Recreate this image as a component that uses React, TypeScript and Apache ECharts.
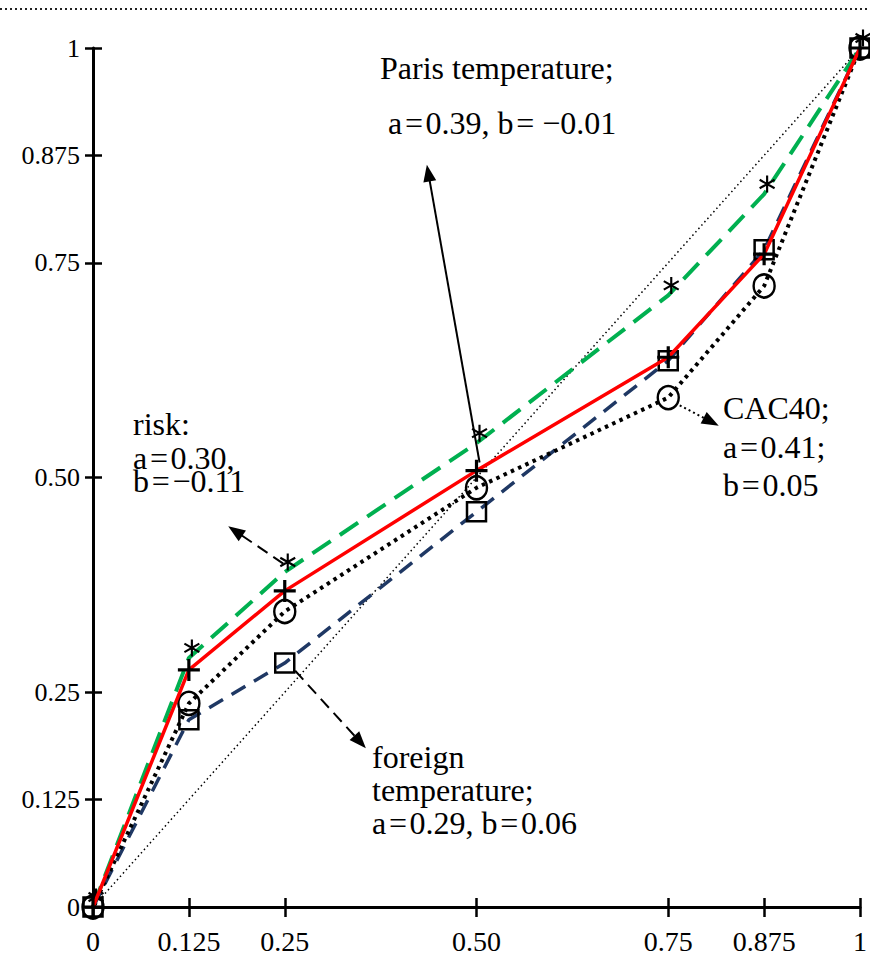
import React, { useEffect, useRef } from "react";
import * as echarts from "echarts";

const xValues = [0, 0.125, 0.25, 0.5, 0.75, 0.875, 1];
const riskValues = [0, 0.29, 0.39, 0.54, 0.712, 0.83, 1];
const parisValues = [0, 0.276, 0.368, 0.508, 0.64, 0.76, 1];
const foreignValues = [0, 0.218, 0.284, 0.46, 0.636, 0.765, 1];
const cacValues = [0, 0.237, 0.344, 0.488, 0.593, 0.723, 1];
const diagonalX = [0, 1];
const diagonalY = [0, 1];

const tickValues = [0, 0.125, 0.25, 0.5, 0.75, 0.875, 1];
const xTickLabels = ["0", "0.125", "0.25", "0.50", "0.75", "0.875", "1"];
const yTickLabels = ["0", "0.125", "0.25", "0.50", "0.75", "0.875", "1"];

const FONT = "Liberation Serif";

const asteriskPath =
  "path://M-1,-8 L1,-8 L1,8 L-1,8 Z " +
  "M-7.428,-3.134 L-6.428,-4.866 L7.428,3.134 L6.428,4.866 Z " +
  "M6.428,-4.866 L7.428,-3.134 L-6.428,4.866 L-7.428,3.134 Z";
const plusPath =
  "path://M-1.6,-11 L1.6,-11 L1.6,-1.6 L11,-1.6 L11,1.6 L1.6,1.6 L1.6,11 L-1.6,11 L-1.6,1.6 L-11,1.6 L-11,-1.6 L-1.6,-1.6 Z";

function pairs(xs: number[], ys: number[]) {
  return xs.map((x, i) => [x, ys[i]]);
}

function fmt(labels: string[]) {
  return (v: number) => {
    const i = tickValues.findIndex((t) => Math.abs(t - v) < 1e-9);
    return i >= 0 ? labels[i] : "";
  };
}

function arrow(from: number[], to: number[], type: any) {
  return [
    { coord: from, lineStyle: { type } },
    { coord: to, lineStyle: { type } },
  ];
}

const markLineBase = {
  silent: true,
  animation: false,
  symbol: ["none", "triangle"],
  symbolSize: [13, 17],
  label: { show: false },
  emphasis: { disabled: true },
  lineStyle: { color: "#000", width: 2 },
};

export default function App() {
  const ref = useRef<HTMLDivElement>(null);
  useEffect(() => {
    if (!ref.current) return;
    const chart = echarts.init(ref.current, null, { renderer: "svg" });
    const axisCommon = {
      type: "value",
      min: 0,
      max: 1,
      interval: 0.125,
      splitLine: { show: false },
    };
    chart.setOption({
      animation: false,
      backgroundColor: "#fff",
      grid: { left: 93, right: 3, top: 48, bottom: 48, containLabel: false },
      xAxis: [
        {
          ...axisCommon,
          position: "bottom",
          axisLine: { show: true, onZero: false, lineStyle: { color: "#000", width: 3 } },
          axisTick: { show: true, inside: false, length: 10, customValues: tickValues, lineStyle: { color: "#000", width: 2.5 } },
          axisLabel: {
            show: true,
            customValues: tickValues,
            formatter: fmt(xTickLabels),
            color: "#000",
            fontFamily: FONT,
            fontSize: 28,
            margin: 20,
            showMinLabel: true,
            showMaxLabel: true,
          },
        },
        {
          ...axisCommon,
          position: "bottom",
          axisLine: { show: false, onZero: false },
          axisTick: { show: true, inside: true, length: 9, customValues: tickValues, lineStyle: { color: "#000", width: 2.5 } },
          axisLabel: { show: false },
        },
      ],
      yAxis: [
        {
          ...axisCommon,
          position: "left",
          axisLine: { show: true, onZero: false, lineStyle: { color: "#000", width: 3 } },
          axisTick: { show: true, inside: false, length: 8, customValues: tickValues, lineStyle: { color: "#000", width: 2.5 } },
          axisLabel: {
            show: true,
            customValues: tickValues,
            formatter: fmt(yTickLabels),
            color: "#000",
            fontFamily: FONT,
            fontSize: 26,
            margin: 13,
            showMinLabel: true,
            showMaxLabel: true,
          },
        },
        {
          ...axisCommon,
          position: "left",
          axisLine: { show: false, onZero: false },
          axisTick: { show: true, inside: true, length: 9, customValues: tickValues, lineStyle: { color: "#000", width: 2.5 } },
          axisLabel: { show: false },
        },
      ],
      series: [
        {
          name: "diagonal",
          type: "line",
          data: pairs(diagonalX, diagonalY),
          showSymbol: false,
          lineStyle: { color: "#000", width: 1.5, type: [1.5, 3] },
          z: 1,
        },
        {
          name: "risk",
          type: "line",
          data: pairs(xValues, riskValues),
          symbol: asteriskPath,
          symbolSize: [16, 17],
          symbolOffset: [3, -10],
          showAllSymbol: true,
          itemStyle: { color: "#000", borderWidth: 0 },
          lineStyle: { color: "#00B050", width: 4, type: [22, 11] },
          z: 2,
          markLine: {
            ...markLineBase,
            data: [arrow([0.248, 0.3998], [0.1855, 0.4377], [12, 7])],
          },
        },
        {
          name: "foreign temperature",
          type: "line",
          data: pairs(xValues, foreignValues),
          symbol: "rect",
          symbolSize: 19,
          showAllSymbol: true,
          itemStyle: { color: "rgba(0,0,0,0)", borderColor: "#000", borderWidth: 2.5 },
          lineStyle: { color: "#1F3864", width: 3.5, type: [16, 10] },
          z: 3,
          markLine: {
            ...markLineBase,
            data: [arrow([0.2636, 0.275], [0.3483, 0.1921], [12, 7])],
          },
        },
        {
          name: "CAC40",
          type: "line",
          data: pairs(xValues, cacValues),
          symbol: "circle",
          symbolSize: [21, 23],
          showAllSymbol: true,
          itemStyle: { color: "rgba(0,0,0,0)", borderColor: "#000", borderWidth: 2.5 },
          lineStyle: { color: "#000", width: 4, type: [3.5, 4.5] },
          z: 4,
          markLine: {
            ...markLineBase,
            data: [arrow([0.765, 0.584], [0.806, 0.5649], [2, 3])],
          },
        },
        {
          name: "Paris temperature",
          type: "line",
          data: pairs(xValues, parisValues),
          symbol: plusPath,
          symbolSize: 22,
          showAllSymbol: true,
          itemStyle: { color: "#000", borderWidth: 0 },
          lineStyle: { color: "#FF0000", width: 3.5, type: "solid" },
          z: 5,
          markLine: {
            ...markLineBase,
            data: [arrow([0.504, 0.5175], [0.4372, 0.8544], "solid")],
          },
        },
      ],
      graphic: [
        {
          type: "line",
          shape: { x1: 0, y1: 9, x2: 870, y2: 9 },
          style: { stroke: "#222", lineWidth: 2, lineDash: [2, 3] },
          silent: true,
        },
        ...[
          { x: 380, y: 68, t: "Paris temperature;" },
          { x: 388, y: 123, t: "a\u200A=\u200A0.39, b\u200A= \u22120.01" },
          { x: 133, y: 424, t: "risk:" },
          { x: 133, y: 458, t: "a\u200A=\u200A0.30," },
          { x: 133, y: 481, t: "b\u200A=\u200A\u22120.11" },
          { x: 723, y: 408, t: "CAC40;" },
          { x: 723, y: 447, t: "a\u200A=\u200A0.41;" },
          { x: 723, y: 485, t: "b\u200A=\u200A0.05" },
          { x: 372, y: 757, t: "foreign" },
          { x: 372, y: 790, t: "temperature;" },
          { x: 372, y: 823, t: "a\u200A=\u200A0.29, b\u200A=\u200A0.06" },
        ].map((d) => ({
          type: "text",
          x: d.x,
          y: d.y,
          silent: true,
          style: {
            text: d.t,
            fontFamily: FONT,
            fontSize: 32,
            fill: "#000",
            align: "left",
            verticalAlign: "middle",
          },
        })),
      ],
    });
    return () => chart.dispose();
  }, []);
  return (
    <div
      ref={ref}
      style={{ position: "absolute", left: 0, top: 0, width: 870, height: 955, background: "#fff" }}
    />
  );
}
